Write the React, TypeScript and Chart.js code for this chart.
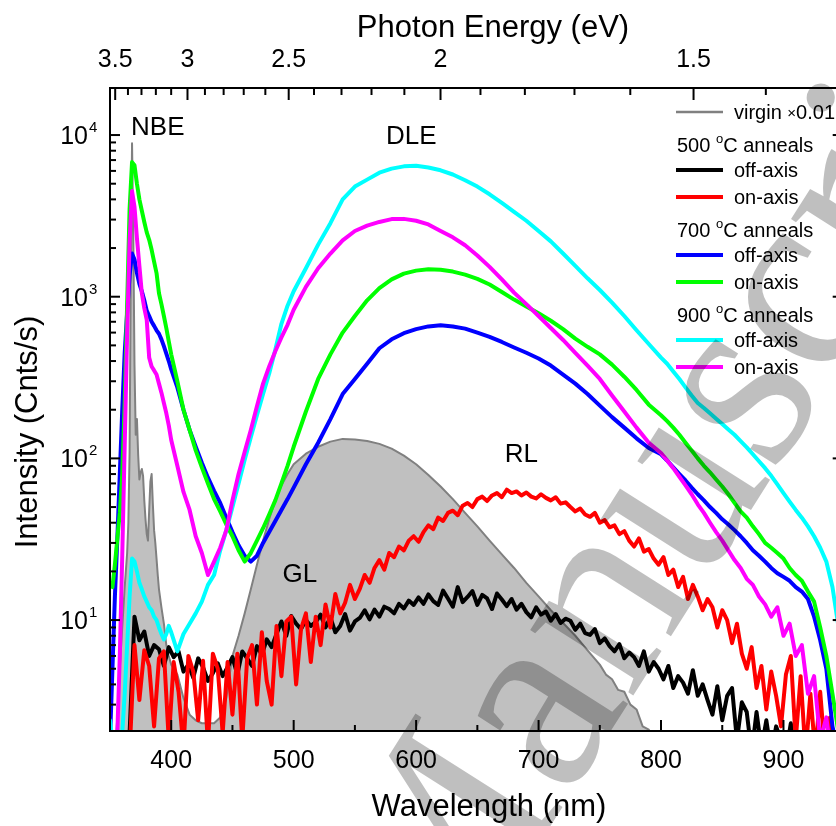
import React, { useEffect, useRef } from 'react';
import { Chart, registerables } from 'chart.js';

Chart.register(...registerables);

// ---------- data ----------
// wavelength grid (nm) for the smooth annealed spectra
const GRID_A = [
  350, 352, 354, 356, 358, 360, 362, 364, 366, 368, 370, 372, 374, 376, 378, 380, 382, 384, 386, 388, 390, 392, 394, 396, 398, 400,
  405, 410, 415, 420, 425, 430, 435, 440, 445, 450, 455, 460, 465, 470, 475, 480, 485, 490, 495, 500,
  510, 520, 530, 540, 550, 560, 570, 580, 590, 600, 610, 620, 630, 640, 650, 660, 670, 680, 690, 700, 710, 720, 730, 740, 750, 760, 770, 780, 790, 800,
  805, 810, 815, 820, 825, 830, 835, 840, 845, 850, 855, 860, 865, 870, 875, 880, 885, 890, 895, 900, 905, 910, 915, 920, 925, 930, 935, 940, 945,
];

// 900 °C off-axis (cyan)
const CYAN_900_OFF = [
  2.4, 1.8, 1.5, 1.5, 1.6, 2, 3.5, 7, 14, 24, 23, 20, 17, 15.5, 14, 13, 12, 11.5, 10.5, 10, 9, 8.2, 7.6, 8.2, 9.2, 8.4,
  6.4, 8.2, 9.5, 11, 13, 16.5, 19, 27, 36, 50, 70, 98, 135, 185, 250, 335, 470, 680, 880, 1080,
  1500, 2100, 2850, 4000, 4800, 5300, 5850, 6200, 6400, 6450, 6300, 6050, 5700, 5250, 4800, 4300, 3800, 3350, 2950, 2550, 2200, 1850, 1550, 1300, 1100, 920, 760, 620, 510, 420,
  385, 345, 310, 275, 245, 220, 205, 190, 176, 163, 151, 140, 128, 117, 106, 96, 87, 78, 69, 61, 54, 48, 43, 38, 33, 28, 23, 16, 9,
];

// 900 °C on-axis (magenta)
const MAGENTA_900_ON = [
  1.5, 1.5, 1.5, 2, 6, 25, 120, 600, 2200, 4500, 3600, 2300, 1550, 1050, 850, 720, 420, 370, 350, 330, 290, 255, 220, 190, 160, 130,
  90, 62, 48, 33, 26, 19, 23, 28, 36, 55, 80, 110, 150, 210, 290, 370, 460, 560, 670, 830,
  1150, 1500, 1850, 2230, 2550, 2750, 2900, 3020, 3030, 2950, 2800, 2550, 2330, 2080, 1800, 1530, 1280, 1060, 900, 760, 640, 540, 450, 375, 310, 245, 195, 155, 125, 108,
  97, 87, 77, 68, 60, 52, 46, 40, 35, 31, 27, 23.5, 21, 18, 16.5, 14, 12.5, 10.5, 12, 8, 9.5, 6, 7, 3.5, 4.5, 1.8, 2.5, 1.3, 1.2,
];

// 700 °C on-axis (green)
const GREEN_700_ON = [
  17, 16, 22, 32, 46, 80, 220, 900, 3500, 6800, 6500, 5000, 4000, 3400, 2900, 2500, 2250, 1950, 1650, 1400, 1050, 900, 760, 640, 530, 440,
  300, 200, 150, 112, 88, 70, 56, 47, 39, 33, 27, 23, 26, 31, 37, 45, 55, 70, 90, 118,
  195, 310, 440, 600, 760, 950, 1130, 1280, 1390, 1450, 1480, 1470, 1430, 1370, 1290, 1190, 1070, 960, 870, 790, 710, 630, 550, 490, 440, 380, 320, 265, 215, 185,
  170, 155, 140, 125, 112, 100, 90, 82, 74, 67, 60, 53, 47, 43, 38, 34, 30, 28, 26, 24, 21, 19, 17.5, 15, 13, 9, 6, 3.5, 2,
];

// 700 °C off-axis (blue)
const BLUE_700_OFF = [
  1.8, 5, 14, 32, 80, 200, 450, 800, 1350, 1850, 1700, 1400, 1200, 1080, 950, 820, 760, 700, 660, 620, 590, 545, 495, 445, 400, 355,
  275, 200, 150, 118, 94, 76, 63, 53, 43, 35, 29, 25, 23, 25, 30, 35, 41, 48, 56, 66,
  92, 125, 175, 250, 310, 385, 480, 545, 595, 630, 655, 665, 655, 635, 600, 565, 525, 485, 450, 415, 375, 330, 290, 250, 212, 180, 155, 133, 116, 106,
  97, 88, 80, 73, 66, 60, 55, 50, 46, 42, 39, 36, 33, 30, 27, 25, 23, 21, 19.5, 18.5, 17.5, 16, 15, 13.5, 10.5, 7.5, 5, 2.2, 1.5,
];

// wavelength grid for the virgin sample
const GRID_G = [
  350, 354, 356, 358, 360, 362, 364,
  365, 366, 367, 368, 369, 370, 371, 372, 373, 374, 375, 376, 377, 378, 379, 380, 381, 382, 383, 384, 385, 386, 387, 388, 389, 390,
  392, 394, 396, 398, 400,
  405, 410, 415, 420, 425, 430, 435, 440, 445, 450, 455, 460, 465, 470, 475, 480, 485, 490, 495, 500,
  510, 520, 530, 540, 550, 560, 570, 580, 590, 600, 610, 620, 630, 640, 650, 660, 670, 680, 690, 700, 710, 720, 730, 740, 750,
  755, 760, 765, 770, 775, 780, 785, 790, 795, 800, 810,
];

// virgin ×0.01 (grey, filled)
const VIRGIN_X001 = [
  1.5, 1.5, 2.5, 5, 9, 16, 26,
  40, 110, 1400, 8900, 2500, 380, 140, 175, 105, 74, 82, 86, 78, 55, 42, 34, 31, 48, 72, 80, 52, 36, 30, 24, 19, 15.5,
  12, 9.5, 7, 6, 5.3,
  4.6, 3.3, 2.6, 2.4, 2.3, 2.3, 2.3, 2.5, 3.3, 6, 8, 11, 15.5, 22, 31, 42, 55, 68, 80, 92,
  107, 118, 127, 132, 131, 128, 123, 115, 104, 92, 79, 67, 56, 46, 38, 31, 25.5, 21, 17, 14, 11.5, 9.6, 8, 6.5, 5.3,
  4.6, 4.3, 3.7, 3.6, 3, 2.8, 2.2, 2.1, 1.6, 1.4, 1.2,
];

// wavelength grid for the noisy 500 °C spectra
const GRID_N = [
  366, 370, 374, 378, 382, 386, 390, 394, 398, 402,
  406, 410, 414, 418, 422, 426, 430, 434, 438, 442,
  446, 450, 454, 458, 462, 466, 470, 474, 478, 482,
  486, 490, 494, 498, 502, 506, 510, 514, 518, 522,
  526, 530, 534, 538, 542, 546, 550, 554, 558, 562,
  566, 570, 574, 578, 582, 586, 590, 594, 598, 602,
  606, 610, 614, 618, 622, 626, 630, 634, 638, 642,
  646, 650, 654, 658, 662, 666, 670, 674, 678, 682,
  686, 690, 694, 698, 702, 706, 710, 714, 718, 722,
  726, 730, 734, 738, 742, 746, 750, 754, 758, 762,
  766, 770, 774, 778, 782, 786, 790, 794, 798, 802,
  806, 810, 814, 818, 822, 826, 830, 834, 838, 842,
  846, 850, 854, 858, 862, 866, 870, 874, 878, 882,
  886, 890, 894, 898, 902, 906, 910, 914, 918, 922,
  926, 930, 934, 938, 942,
];

// 500 °C off-axis (black)
const BLACK_500_OFF = [
  2, 10.5, 7.5, 8.5, 6, 7, 6.6, 5.2, 6.8, 5.9,
  6.4, 4.8, 5.3, 4.4, 5.8, 5.1, 4.2, 4.7, 5.4, 4.5,
  5.1, 5.9, 4.6, 6.4, 5.8, 5.2, 6.9, 6.1, 7.6, 6.8,
  8.2, 9.8, 8, 10.6, 9.5, 8.8, 10, 9.2, 9.7, 10.8,
  9, 10.4, 8.4, 9.2, 10.9, 8.6, 9.8, 10.3, 11.5, 10.1,
  11.6, 10.5, 12.1, 11.7, 11, 12.6, 11.8, 13.2, 12.4, 13.8,
  12.6, 14.4, 13.1, 12.4, 15.2, 13.6, 12.1, 16, 12.9, 13.9,
  15.1, 12.4, 14.3, 13.6, 11.7, 14.6, 13.4, 12.2, 13.5, 11.6,
  12.6, 11.2, 10.4, 12, 10.8, 11.3, 9.9, 10.9, 9.6, 10.2,
  9.9, 8.7, 9.5, 8.3, 8.1, 8.8, 7.2, 7.7, 6.9, 6.4,
  7.1, 5.8, 6.3, 5.9, 5.2, 6.4, 4.8, 5.5, 5, 4.3,
  5.2, 3.8, 4.5, 4.1, 3.5, 4.9, 3.4, 4, 3.2, 2.6,
  3.9, 2.4, 3.4, 3.8, 1.8, 3.1, 2.7, 1.5, 2.7, 1.6,
  2.4, 1.5, 2.2, 1.8, 1.5, 2.3, 1.5, 1.6, 1.5, 1.5,
  1.5, 1.5, 1.5, 1.5, 1.5,
];

// 500 °C on-axis (red)
const RED_500_ON = [
  1.5, 7, 3.2, 6.5, 5.2, 2.2, 5.8, 6.4, 1.8, 5.5,
  3.6, 1.6, 6, 4.8, 2.4, 5.6, 1.7, 6.2, 5, 2,
  5.5, 2.6, 6.2, 1.8, 5.8, 7, 3, 8.4, 4.2, 3,
  9.2, 4.5, 9.8, 10.5, 4, 8.8, 11, 5.5, 10.5, 7,
  12.5, 9, 14.5, 11, 12.8, 16.5, 13.5, 15.6, 19, 17,
  21, 23.5, 20.5, 26, 24.5, 28.5, 27, 31, 33, 30.5,
  35, 38.5, 36.5, 43, 41, 46, 47.5, 44.5, 51, 53,
  50, 56, 58, 54.5, 59, 61, 57.5, 64, 61, 62.5,
  59, 61.5, 58, 56.5, 60, 57, 55, 57.5, 52.5, 53.5,
  50, 47, 49, 45, 43.5, 46, 40, 41.5, 37.5, 38.5,
  34, 35.5, 31, 28.5, 32, 26.5, 27.5, 24, 22, 24.5,
  19, 20.5, 16, 18.5, 13.5, 16.5, 14, 11.5, 13.5, 12,
  9, 11.5, 10, 7.2, 9.5, 6.2, 5, 6.8, 3.8, 5.2,
  2.8, 4.8, 3.4, 2.2, 4.6, 6, 1.8, 4.5, 1.5, 3.5,
  1.5, 3.6, 1.5, 2.5, 1.5,
];

// axes
const WL_MIN = 350;
const WL_MAX = 950;
const INT_MIN = 2.06;
const INT_MAX = 19540;
const WL_MAJOR = [400, 500, 600, 700, 800, 900];
const WL_MINOR = [350, 450, 550, 650, 750, 850, 950];
const EV_MAJOR = [3.5, 3, 2.5, 2, 1.5];
const EV_MINOR = [3.4, 3.3, 3.2, 3.1, 2.9, 2.8, 2.7, 2.6, 2.4, 2.3, 2.2, 2.1, 1.9, 1.8, 1.7, 1.6, 1.4, 1.3];
const INT_DECADES = [10, 100, 1000, 10000];
const INT_EXPONENTS = ['1', '2', '3', '4'];
const HC_EV_NM = 1239.84;

const SANS = '"Liberation Sans", Arial, Helvetica, sans-serif';

const pts = (xs: number[], ys: number[]) => xs.map((x, i) => ({ x, y: ys[i] }));

const decorPlugin = {
  id: 'decor',
  afterDatasetsDraw(chart: any) {
    const ctx: CanvasRenderingContext2D = chart.ctx;
    const { left, right, top, bottom } = chart.chartArea;
    const xs = chart.scales.x;
    const ys = chart.scales.y;
    ctx.save();

    // peak labels (data coordinates)
    ctx.fillStyle = '#000';
    ctx.font = `26px ${SANS}`;
    ctx.textAlign = 'center';
    ctx.textBaseline = 'alphabetic';
    const peakLabels: [string, number, number][] = [
      ['NBE', 389, 10000],
      ['DLE', 596, 8800],
      ['GL', 505, 17.2],
      ['RL', 686, 95],
    ];
    peakLabels.forEach(([t, wl, v]) => ctx.fillText(t, xs.getPixelForValue(wl), ys.getPixelForValue(v)));

    // legend
    const lx0 = 676;
    const lx1 = 723;
    const tx = 734;
    const drawLine = (y: number, color: string, w: number) => {
      ctx.strokeStyle = color;
      ctx.lineWidth = w;
      ctx.lineCap = 'butt';
      ctx.beginPath();
      ctx.moveTo(lx0, y);
      ctx.lineTo(lx1, y);
      ctx.stroke();
    };
    const item = (y: number, label: string) => {
      ctx.font = `20px ${SANS}`;
      ctx.textAlign = 'left';
      ctx.fillStyle = '#000';
      ctx.fillText(label, tx, y + 7);
    };
    const header = (y: number, temp: string) => {
      ctx.fillStyle = '#000';
      ctx.textAlign = 'left';
      ctx.font = `20px ${SANS}`;
      let x = lx0 + 1;
      ctx.fillText(temp + ' ', x, y);
      x += ctx.measureText(temp + ' ').width;
      ctx.font = `13px ${SANS}`;
      ctx.fillText('o', x, y - 9);
      x += ctx.measureText('o').width;
      ctx.font = `20px ${SANS}`;
      ctx.fillText('C anneals', x, y);
    };
    drawLine(112, '#808080', 2.5);
    ctx.font = `20px ${SANS}`;
    ctx.textAlign = 'left';
    ctx.fillStyle = '#000';
    let vx = tx;
    ctx.fillText('virgin ', vx, 119);
    vx += ctx.measureText('virgin ').width;
    ctx.font = `15px ${SANS}`;
    ctx.fillText('×', vx, 118);
    vx += ctx.measureText('×').width;
    ctx.font = `20px ${SANS}`;
    ctx.fillText('0.01', vx, 119);

    header(152, '500');
    drawLine(170, '#000000', 4);
    item(170, 'off-axis');
    drawLine(197, '#ff0000', 4);
    item(197, 'on-axis');
    header(237, '700');
    drawLine(255, '#0000ff', 4);
    item(255, 'off-axis');
    drawLine(282, '#00ff00', 4);
    item(282, 'on-axis');
    header(322, '900');
    drawLine(340, '#00ffff', 4);
    item(340, 'off-axis');
    drawLine(367, '#ff00ff', 4);
    item(367, 'on-axis');

    // frame
    ctx.strokeStyle = '#000';
    ctx.lineWidth = 2;
    ctx.lineCap = 'square';
    ctx.beginPath();
    ctx.rect(left, top, right - left, bottom - top);
    ctx.stroke();

    // ticks
    ctx.lineWidth = 2;
    ctx.lineCap = 'butt';
    const vt = (x: number, y0: number, y1: number) => {
      ctx.beginPath();
      ctx.moveTo(x, y0);
      ctx.lineTo(x, y1);
      ctx.stroke();
    };
    const ht = (y: number, x0: number, x1: number) => {
      ctx.beginPath();
      ctx.moveTo(x0, y);
      ctx.lineTo(x1, y);
      ctx.stroke();
    };
    WL_MAJOR.forEach((w) => vt(xs.getPixelForValue(w), bottom, bottom - 11));
    WL_MINOR.forEach((w) => vt(xs.getPixelForValue(w), bottom, bottom - 6));
    EV_MAJOR.forEach((e) => vt(xs.getPixelForValue(HC_EV_NM / e), top, top + 12));
    EV_MINOR.forEach((e) => {
      const w = HC_EV_NM / e;
      if (w >= WL_MIN && w <= WL_MAX) vt(xs.getPixelForValue(w), top, top + 7);
    });
    INT_DECADES.forEach((d) => {
      const y = ys.getPixelForValue(d);
      ht(y, left, left + 10);
      ht(y, right, right - 12);
    });
    [1, 10, 100, 1000, 10000].forEach((d) => {
      for (let m = 2; m <= 9; m++) {
        const v = d * m;
        if (v < INT_MIN || v > INT_MAX) continue;
        const y = ys.getPixelForValue(v);
        ht(y, left, left + 6);
        ht(y, right, right - 6);
      }
    });

    // tick labels
    ctx.fillStyle = '#000';
    ctx.font = `25px ${SANS}`;
    ctx.textAlign = 'center';
    ctx.textBaseline = 'alphabetic';
    WL_MAJOR.forEach((w) => ctx.fillText(String(w), xs.getPixelForValue(w), 768));
    EV_MAJOR.forEach((e) => ctx.fillText(String(e), xs.getPixelForValue(HC_EV_NM / e), 67));
    INT_DECADES.forEach((d, i) => {
      const y = ys.getPixelForValue(d);
      ctx.font = `25px ${SANS}`;
      ctx.textAlign = 'right';
      ctx.fillText('10', 88, y + 9);
      ctx.font = `15px ${SANS}`;
      ctx.textAlign = 'left';
      ctx.fillText(INT_EXPONENTS[i], 89, y - 3);
    });

    // axis titles
    ctx.font = `31px ${SANS}`;
    ctx.textAlign = 'center';
    ctx.fillText('Photon Energy (eV)', 493, 37);
    ctx.fillText('Wavelength (nm)', 489, 816);
    ctx.save();
    ctx.translate(37, 432);
    ctx.rotate(-Math.PI / 2);
    ctx.fillText('Intensity (Cnts/s)', 0, 0);
    ctx.restore();

    ctx.restore();
  },
  afterDraw(chart: any) {
    const ctx: CanvasRenderingContext2D = chart.ctx;
    ctx.save();
    ctx.translate(440, 1000);
    ctx.rotate((-57.6 * Math.PI) / 180);
    ctx.font = '266px "Liberation Serif", "Times New Roman", serif';
    ctx.fillStyle = 'rgba(0,0,0,0.25)';
    ctx.textBaseline = 'alphabetic';
    ctx.textAlign = 'left';
    ctx.fillText('Manuscript', 0, 0);
    ctx.restore();
  },
};

export default function App() {
  const ref = useRef<HTMLCanvasElement>(null);
  useEffect(() => {
    const canvas = ref.current;
    if (!canvas) return;
    const line = (label: string, xsArr: number[], ysArr: number[], color: string, extra: any = {}) => ({
      label,
      data: pts(xsArr, ysArr),
      borderColor: color,
      borderWidth: 4,
      pointRadius: 0,
      tension: 0,
      fill: false,
      borderJoinStyle: 'round',
      borderCapStyle: 'round',
      clip: 0,
      ...extra,
    });
    const chart = new Chart(canvas, {
      type: 'line',
      data: {
        datasets: [
          line('900 °C on-axis', GRID_A, MAGENTA_900_ON, '#ff00ff'),
          line('900 °C off-axis', GRID_A, CYAN_900_OFF, '#00ffff'),
          line('700 °C on-axis', GRID_A, GREEN_700_ON, '#00ff00'),
          line('700 °C off-axis', GRID_A, BLUE_700_OFF, '#0000ff'),
          line('500 °C on-axis', GRID_N, RED_500_ON, '#ff0000'),
          line('500 °C off-axis', GRID_N, BLACK_500_OFF, '#000000'),
          line('virgin ×0.01', GRID_G, VIRGIN_X001, '#808080', {
            borderWidth: 2,
            fill: 'start',
            backgroundColor: '#c0c0c0',
          }),
        ] as any,
      },
      options: {
        responsive: false,
        maintainAspectRatio: false,
        devicePixelRatio: 1,
        animation: false,
        parsing: true,
        layout: { padding: { left: 110, right: 35.3, top: 88, bottom: 95 } },
        plugins: {
          legend: { display: false },
          tooltip: { enabled: false },
          title: { display: false },
        },
        scales: {
          x: { type: 'linear', min: WL_MIN, max: WL_MAX, display: false },
          y: { type: 'logarithmic', min: INT_MIN, max: INT_MAX, display: false },
        },
      } as any,
      plugins: [decorPlugin],
    });
    return () => chart.destroy();
  }, []);
  return (
    <div
      style={{
        position: 'fixed',
        left: 0,
        top: 0,
        width: 836,
        height: 826,
        overflow: 'hidden',
        background: '#ffffff',
      }}
    >
      <canvas ref={ref} width={880} height={826} style={{ display: 'block', width: 880, height: 826 }} />
    </div>
  );
}
